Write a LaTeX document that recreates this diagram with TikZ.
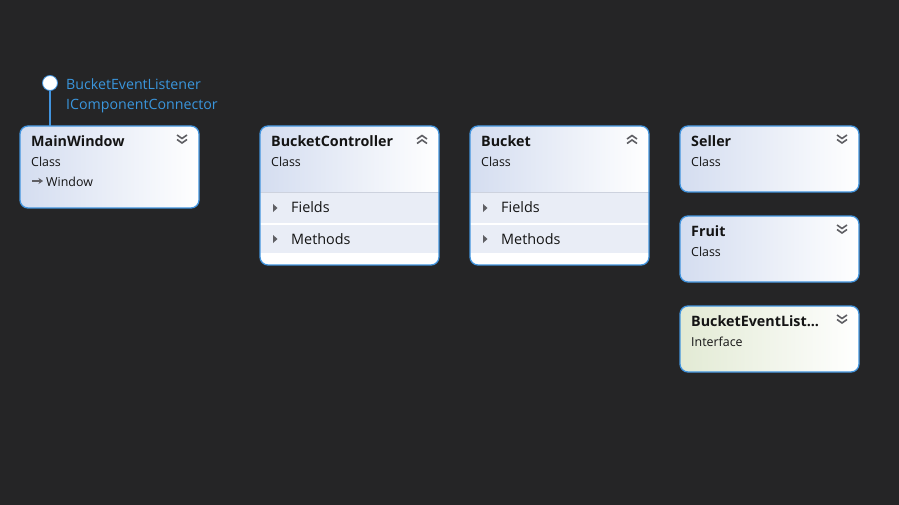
\documentclass[tikz,border=0pt]{standalone}
\usepackage{fontspec}
\setmainfont{Open Sans}
\usetikzlibrary{arrows.meta}
\definecolor{bg}{RGB}{37,37,38}
\definecolor{bord}{RGB}{66,148,222}
\definecolor{hdl}{RGB}{212,221,240}
\definecolor{hdg}{RGB}{226,234,212}
\definecolor{rowc}{RGB}{233,237,246}
\definecolor{sepc}{RGB}{205,210,222}
\definecolor{ink}{RGB}{20,20,20}
\definecolor{icon}{RGB}{95,95,100}
\definecolor{lbl}{RGB}{58,150,221}
\tikzset{
  px/.style={x=1pt,y=-1pt},
  boxframe/.style={draw=bord,line width=1.3pt},
  anch/.style={anchor=north west,inner sep=0pt},
  ttl/.style={anchor=west,inner sep=0pt,font=\fontsize{14.3}{15}\selectfont\bfseries,text=ink},
  sub/.style={anchor=west,inner sep=0pt,font=\fontsize{12.4}{13}\selectfont,text=ink},
  rowtxt/.style={anchor=west,inner sep=0pt,font=\fontsize{14.4}{15}\selectfont,text=ink},
  blu/.style={anchor=west,inner sep=0pt,font=\fontsize{14.2}{15}\selectfont,text=lbl},
  chev/.style={draw=icon,line width=1.6pt},
  tri/.style={fill=icon},
}
% rounded box outline path: x1,y1 (top-left), x2,y2 (bottom-right), r
\newcommand{\rpath}[4]{%
  (#1+8,#2) -- (#3-8,#2) arc[start angle=90,end angle=0,radius=8pt]
  -- (#3,#4-8) arc[start angle=0,end angle=-90,radius=8pt]
  -- (#1+8,#4) arc[start angle=270,end angle=180,radius=8pt]
  -- (#1,#2+8) arc[start angle=180,end angle=90,radius=8pt] -- cycle}
\newcommand{\chevdown}[2]{%
  \draw[chev] (#1-5,#2-5) -- (#1,#2-1.5) -- (#1+5,#2-5);
  \draw[chev] (#1-5,#2-0.5) -- (#1,#2+3) -- (#1+5,#2-0.5);}
\newcommand{\chevup}[2]{%
  \draw[chev] (#1-5,#2-1) -- (#1,#2-4.5) -- (#1+5,#2-1);
  \draw[chev] (#1-5,#2+3.5) -- (#1,#2) -- (#1+5,#2+3.5);}
\newcommand{\belname}{BucketEventList...}
\begin{document}
\begin{tikzpicture}[px]
\useasboundingbox (0,0) rectangle (899,505);
\fill[bg] (0,0) rectangle (899,505);

% ---------- MainWindow ----------
\begin{scope}
\clip \rpath{20}{126}{199}{208};
\shade[left color=hdl,right color=white] (20,126) rectangle (199,208);
\end{scope}
\draw[boxframe] \rpath{20}{126}{199}{208};
\node[anch,minimum width=179pt,minimum height=82pt] (mw) at (20,126) {};
\node[ttl] (mwt) at (31,141) {MainWindow};
\node[sub] (mws) at (31,162) {Class};
\draw[icon,line width=1.4pt,-{Stealth[length=4.5pt,width=6pt]}] (32,181) -- (43,181);
\node[sub] (mwb) at (46,182) {Window};
\chevdown{182}{140}

% lollipop
\node[circle,fill=white,draw=bord,line width=0.8pt,minimum size=15pt,inner sep=0pt] (lol) at (50,83) {};
\draw[bord,line width=1.3pt] (lol.south) -- (mw.north -| lol.south);
\node[blu] (l1) at (66,84) {BucketEventListener};
\node[blu] (l2) at (66,106) {IComponentConnector};

% ---------- BucketController / Bucket ----------
\foreach \x/\nm/\id in {260/BucketController/bc,470/Bucket/bk}{
  \begin{scope}
  \clip \rpath{\x}{126}{\x+179}{265};
  \fill[white] (\x,126) rectangle (\x+179,265);
  \shade[left color=hdl,right color=white] (\x,126) rectangle (\x+179,192);
  \fill[rowc] (\x,193) rectangle (\x+179,223);
  \fill[rowc] (\x,225) rectangle (\x+179,253);
  \draw[sepc,line width=0.8pt] (\x,192.5) -- (\x+179,192.5);
  \end{scope}
  \draw[boxframe] \rpath{\x}{126}{\x+179}{265};
  \node[anch,minimum width=179pt,minimum height=139pt] (\id) at (\x,126) {};
  \node[ttl] (\id t) at (\x+11,141) {\nm};
  \node[sub] (\id s) at (\x+11,162) {Class};
  \fill[tri] (\x+13,204) -- (\x+17.5,208) -- (\x+13,212) -- cycle;
  \node[rowtxt] (\id f) at (\x+31,207) {Fields};
  \fill[tri] (\x+13,235) -- (\x+17.5,239) -- (\x+13,243) -- cycle;
  \node[rowtxt] (\id m) at (\x+31,239) {Methods};
  \chevup{\x+162}{140}
}

% ---------- Right column ----------
\foreach \y/\nm/\kind/\col/\id in {126/Seller/Class/hdl/se,216/Fruit/Class/hdl/fr,306/\belname/Interface/hdg/bel}{
  \begin{scope}
  \clip \rpath{680}{\y}{859}{\y+66};
  \shade[left color=\col,right color=white] (680,\y) rectangle (859,\y+66);
  \end{scope}
  \draw[boxframe] \rpath{680}{\y}{859}{\y+66};
  \node[anch,minimum width=179pt,minimum height=66pt] (\id) at (680,\y) {};
  \node[ttl] (\id t) at (691,\y+15) {\nm};
  \node[sub] (\id s) at (691,\y+36) {\kind};
  \chevdown{842}{\y+14}
}
\end{tikzpicture}
\end{document}
